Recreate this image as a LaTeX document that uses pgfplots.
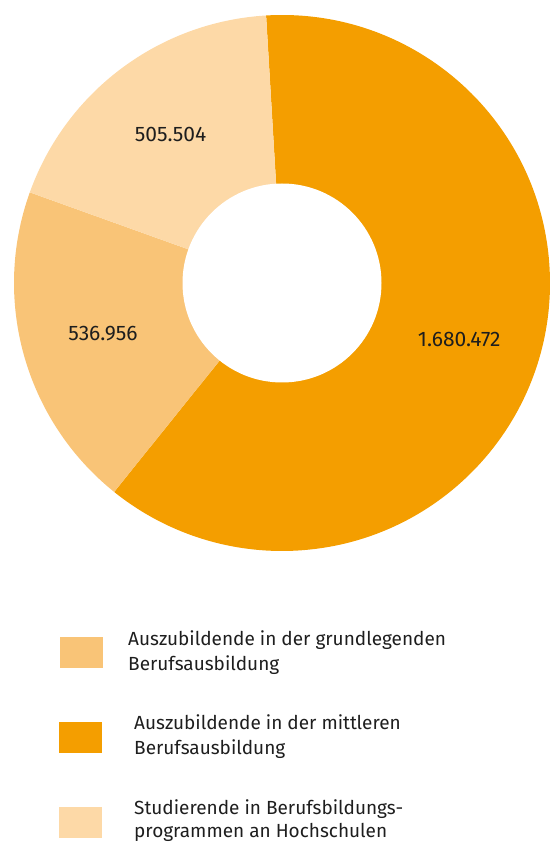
\documentclass[border=0pt]{standalone}
\usepackage{pgfplots}
\pgfplotsset{compat=1.18}
\usepackage{pgfplotstable}
\usetikzlibrary{calc}
\usepackage{fontspec}
\setmainfont{Fira Sans}

\definecolor{cOrange}{HTML}{F49E00}
\definecolor{cMid}{HTML}{F9C477}
\definecolor{cLight}{HTML}{FDD9A7}
\definecolor{txt}{HTML}{1E1E1E}

% Werte in Reihenfolge des Uhrzeigersinns ab oben
\pgfplotstableread{
value label
1680472 1.680.472
536956 536.956
505504 505.504
}\donutdata

\begin{document}
\begin{tikzpicture}
\pgfplotstablegetelem{0}{value}\of\donutdata \let\vA\pgfplotsretval
\pgfplotstablegetelem{1}{value}\of\donutdata \let\vB\pgfplotsretval
\pgfplotstablegetelem{2}{value}\of\donutdata \let\vC\pgfplotsretval
\edef\tot{\fpeval{\vA+\vB+\vC}}
\def\aS{93.4}
\edef\aA{\fpeval{\aS-360*\vA/\tot}}
\edef\aB{\fpeval{\aA-360*\vB/\tot}}
\edef\aC{\fpeval{\aB-360*\vC/\tot}}
\edef\mA{\fpeval{(\aS+\aA)/2}}
\edef\mB{\fpeval{(\aA+\aB)/2}}
\edef\mC{\fpeval{(\aB+\aC)/2}}
\def\Ro{268pt}
\def\Ri{99.5pt}
\def\Rl{186pt}
\begin{axis}[
  scale only axis,
  width=550pt, height=844pt,
  xmin=0, xmax=550, ymin=0, ymax=844,
  hide axis,
  clip=false,
]
  % Ring
  \fill[cOrange] (axis cs:282,561) -- ++(\aS:\Ro) arc[start angle=\aS, end angle=\aA, radius=\Ro] -- cycle;
  \fill[cMid] (axis cs:282,561) -- ++(\aA:\Ro) arc[start angle=\aA, end angle=\aB, radius=\Ro] -- cycle;
  \fill[cLight] (axis cs:282,561) -- ++(\aB:\Ro) arc[start angle=\aB, end angle=\aC, radius=\Ro] -- cycle;
  \fill[white] (axis cs:282,561) circle[radius=\Ri];

  % Werte
  \begin{scope}[every node/.style={text=txt, font=\fontsize{21}{24}\selectfont}]
    \node at ($(axis cs:282,561)+(\mA:\Rl)$) {1.680.472};
    \node at ($(axis cs:282,561)+(\mB:\Rl)$) {536.956};
    \node at ($(axis cs:282,561)+(\mC:\Rl)$) {505.504};
  \end{scope}

  % Legende
  \fill[cMid] (axis cs:60,176) rectangle (axis cs:103,207);
  \fill[cOrange] (axis cs:59,91) rectangle (axis cs:102,122);
  \fill[cLight] (axis cs:59,6) rectangle (axis cs:102,37);
  \begin{scope}[every node/.style={anchor=base west, inner sep=0pt, text=txt, font=\fontsize{19}{22}\selectfont}]
    \node at (axis cs:128,198) {Auszubildende in der grundlegenden};
    \node at (axis cs:128,173) {Berufsausbildung};
    \node at (axis cs:134,114) {Auszubildende in der mittleren};
    \node at (axis cs:134,89) {Berufsausbildung};
    \node at (axis cs:134,30) {Studierende in Berufsbildungs-};
    \node at (axis cs:134,6) {programmen an Hochschulen};
  \end{scope}
\end{axis}
\pgfresetboundingbox
\useasboundingbox (current axis.south west) rectangle (current axis.north east);
\end{tikzpicture}
\end{document}
